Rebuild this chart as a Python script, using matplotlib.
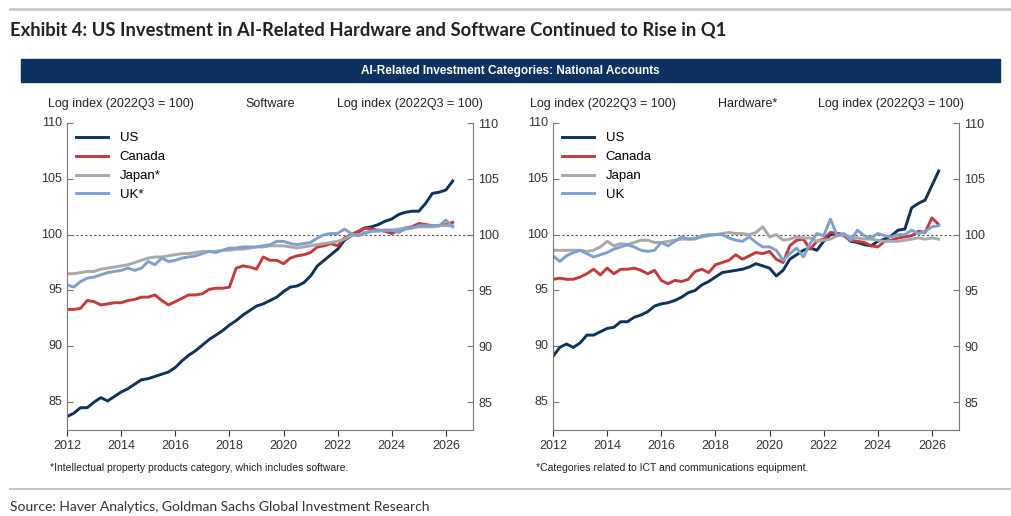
import numpy as np
import matplotlib.pyplot as plt
from matplotlib.lines import Line2D

# quarterly, 2012Q1 .. 2026Q2 position
quarters = 2012 + np.arange(58) / 4

sw_us = [83.7, 84.0, 84.5, 84.5, 85.0, 85.4, 85.1, 85.5, 85.9, 86.2, 86.6, 87.0,
         87.1, 87.3, 87.5, 87.7, 88.1, 88.7, 89.2, 89.6, 90.1, 90.6, 91.0, 91.4,
         91.9, 92.3, 92.8, 93.2, 93.6, 93.8, 94.1, 94.4, 94.9, 95.3, 95.4, 95.7,
         96.3, 97.2, 97.7, 98.2, 98.7, 99.5, 99.9, 100.2, 100.6, 100.7, 100.9, 101.2,
         101.4, 101.8, 102.0, 102.1, 102.1, 102.8, 103.7, 103.8, 104.0, 104.8]
sw_canada = [93.3, 93.3, 93.4, 94.1, 94.0, 93.7, 93.8, 93.9, 93.9, 94.1, 94.2, 94.4,
             94.4, 94.6, 94.1, 93.7, 94.0, 94.3, 94.6, 94.6, 94.7, 95.1, 95.2, 95.2,
             95.3, 97.0, 97.2, 97.1, 96.9, 98.0, 97.7, 97.7, 97.4, 97.9, 98.1, 98.2,
             98.4, 98.9, 99.0, 99.2, 99.0, 99.7, 100.0, 100.3, 100.6, 100.5, 100.4, 100.3,
             100.1, 100.4, 100.6, 100.7, 101.0, 100.9, 100.8, 100.8, 100.9, 101.1]
sw_japan = [96.5, 96.5, 96.6, 96.7, 96.7, 96.9, 97.0, 97.1, 97.2, 97.3, 97.5, 97.7,
            97.9, 98.0, 98.0, 98.1, 98.2, 98.3, 98.3, 98.4, 98.5, 98.5, 98.5, 98.6,
            98.6, 98.7, 98.7, 98.8, 98.9, 98.9, 99.0, 99.0, 99.0, 98.9, 98.8, 98.9,
            99.0, 99.1, 99.2, 99.3, 99.4, 99.6, 99.9, 100.0, 100.2, 100.3, 100.3, 100.4,
            100.4, 100.5, 100.6, 100.6, 100.7, 100.7, 100.7, 100.8, 100.8, 100.8]
sw_uk = [95.5, 95.3, 95.8, 96.1, 96.2, 96.4, 96.6, 96.7, 96.8, 97.0, 96.8, 97.0,
         97.6, 97.3, 97.9, 97.6, 97.7, 97.9, 98.0, 98.1, 98.3, 98.5, 98.4, 98.6,
         98.8, 98.8, 98.9, 98.9, 98.9, 99.0, 99.1, 99.4, 99.4, 99.2, 99.1, 99.2,
         99.3, 99.7, 100.0, 100.1, 100.1, 100.5, 100.1, 99.9, 100.1, 100.3, 100.4, 100.4,
         100.4, 100.2, 100.5, 100.6, 100.8, 100.8, 100.8, 100.8, 101.3, 100.7]

hw_us = [89.1, 89.9, 90.2, 89.9, 90.3, 91.0, 91.0, 91.3, 91.6, 91.7, 92.2, 92.2,
         92.6, 92.8, 93.1, 93.6, 93.8, 93.9, 94.1, 94.4, 94.8, 95.0, 95.5, 95.8,
         96.2, 96.6, 96.7, 96.8, 96.9, 97.1, 97.4, 97.2, 97.0, 96.3, 96.8, 97.8,
         98.2, 98.6, 98.8, 98.6, 99.4, 100.0, 100.1, 100.0, 99.4, 99.3, 99.1, 99.0,
         99.4, 99.6, 99.9, 100.4, 100.5, 102.4, 102.8, 103.1, 104.4, 105.7]
hw_canada = [96.0, 96.1, 96.0, 96.0, 96.2, 96.5, 96.9, 96.4, 97.0, 96.5, 96.9, 96.9,
             97.0, 96.8, 96.5, 96.8, 95.9, 95.6, 95.9, 95.8, 96.0, 96.7, 96.9, 96.6,
             97.3, 97.5, 97.7, 98.2, 97.8, 98.1, 98.4, 98.3, 98.5, 97.8, 97.5, 99.0,
             99.5, 99.6, 98.7, 99.4, 99.6, 100.2, 100.1, 99.9, 99.5, 99.4, 99.3, 99.0,
             98.9, 99.4, 99.5, 99.7, 99.8, 99.9, 100.3, 100.2, 101.5, 100.9]
hw_japan = [98.6, 98.6, 98.6, 98.6, 98.6, 98.5, 98.6, 98.9, 99.4, 99.0, 99.2, 99.1,
            99.3, 99.5, 99.5, 99.3, 99.3, 99.4, 99.5, 99.6, 99.6, 99.7, 99.8, 99.9,
            100.0, 100.1, 100.2, 100.1, 100.1, 100.0, 100.2, 100.7, 99.8, 100.0, 99.5, 99.6,
            99.8, 99.7, 99.7, 99.4, 99.5, 99.6, 99.9, 100.0, 99.8, 99.7, 99.6, 99.6,
            99.5, 99.4, 99.4, 99.4, 99.5, 99.6, 99.7, 99.6, 99.7, 99.6]
hw_uk = [98.1, 97.6, 98.1, 98.4, 98.6, 98.3, 98.0, 98.2, 98.4, 98.7, 98.9, 99.1,
         98.9, 98.6, 98.5, 98.6, 99.3, 99.0, 99.4, 99.8, 99.6, 99.6, 99.9, 100.0,
         100.0, 100.0, 99.7, 99.5, 99.4, 99.8, 99.3, 98.9, 98.9, 98.6, 97.7, 98.3,
         98.8, 98.0, 99.2, 100.1, 99.9, 101.4, 99.9, 100.1, 99.5, 100.4, 99.9, 99.7,
         100.1, 99.9, 99.8, 100.0, 100.0, 100.4, 100.1, 100.3, 100.7, 100.8]

yticks = [85, 90, 95, 100, 105, 110]
xticks = [2012, 2014, 2016, 2018, 2020, 2022, 2024, 2026]

colors = {"US": "#0d3458", "Canada": "#c23b3d", "Japan": "#a9a9a9", "UK": "#7fa0cf"}
navy = "#0b3260"

W, H = 1012, 516
fig = plt.figure(figsize=(W / 100, H / 100), dpi=100)
plt.rcParams['font.family'] = ['Liberation Sans', 'DejaVu Sans']


def fx(px):
    return px / W


def fy(py):
    return 1 - py / H


# header
fig.add_artist(Line2D([fx(10), 1], [fy(9), fy(9)], color="#c8c8c8", lw=2))
fig.text(fx(10), fy(30), "Exhibit 4: US Investment in AI-Related Hardware and Software Continued to Rise in Q1",
         fontsize=13.2, fontweight="bold", family="Lato", color="#222222", va="center")
fig.patches.append(plt.Rectangle((fx(21), fy(82)), fx(1000 - 21), (82 - 59) / H,
                                 transform=fig.transFigure, color=navy, zorder=0))
fig.text(fx(510), fy(71), "AI-Related Investment Categories: National Accounts",
         color="white", fontsize=8.5, fontweight="bold", ha="center", va="center")

# footer
fig.add_artist(Line2D([fx(10), 1], [fy(489), fy(489)], color="#c8c8c8", lw=1.5))
fig.text(fx(10), fy(507), "Source: Haver Analytics, Goldman Sachs Global Investment Research",
         fontsize=10, family="Lato", color="#333333", va="center")


def panel(left, title, series, labels, note, hdr):
    x0, x1, y0, y1 = left, left + 406, 123, 430
    ax = fig.add_axes([fx(x0), fy(y1), fx(x1 - x0), (y1 - y0) / H])
    for (name, vals), lab in zip(series, labels):
        ax.plot(quarters, vals, color=colors[name], lw=2.1, label=lab)
    ax.axhline(100, color="#555555", lw=0.8, ls=(0, (2, 2)), zorder=0)
    ax.set_xlim(2012, 2027)
    ax.set_ylim(82.5, 110)
    ax.set_xticks(xticks)
    ax.set_yticks(yticks)
    ax.spines["top"].set_visible(False)
    for s in ["left", "right", "bottom"]:
        ax.spines[s].set_color("#777777")
    ax.tick_params(axis="y", direction="in", length=4, labelsize=9, colors="#333333",
                   left=True, right=True, labelleft=False, labelright=True, pad=4)
    ax.tick_params(axis="x", direction="out", length=4, labelsize=9, colors="#333333")
    ax.tick_params(axis="y", which="both", color="#777777")
    for t in yticks:
        ax.text(-0.012, (t - 82.5) / 27.5, str(t), transform=ax.transAxes,
                ha="right", va="center", fontsize=9, color="#333333")
    ax.legend(loc="upper left", frameon=False, fontsize=9.5, handlelength=2.4,
              handletextpad=0.9, labelspacing=0.5, borderaxespad=0.3,
              bbox_to_anchor=(0.0, 1.0))
    fig.text(fx(hdr[0]), fy(104), "Log index (2022Q3 = 100)", fontsize=9, va="center", color="#222222")
    fig.text(fx(hdr[1]), fy(104), title, fontsize=9, va="center", color="#222222")
    fig.text(fx(hdr[2]), fy(104), "Log index (2022Q3 = 100)", fontsize=9, va="center", color="#222222")
    fig.text(fx(x0 - 17), fy(468), note, fontsize=7.5, va="center", color="#222222")
    return ax


panel(67, "Software",
      [("US", sw_us), ("Canada", sw_canada), ("Japan", sw_japan), ("UK", sw_uk)],
      ["US", "Canada", "Japan*", "UK*"],
      "*Intellectual property products category, which includes software.",
      (48, 245, 337))
panel(553, "Hardware*",
      [("US", hw_us), ("Canada", hw_canada), ("Japan", hw_japan), ("UK", hw_uk)],
      ["US", "Canada", "Japan", "UK"],
      "*Categories related to ICT and communications equipment.",
      (530, 718, 818))

fig.savefig("out.png", dpi=100)
